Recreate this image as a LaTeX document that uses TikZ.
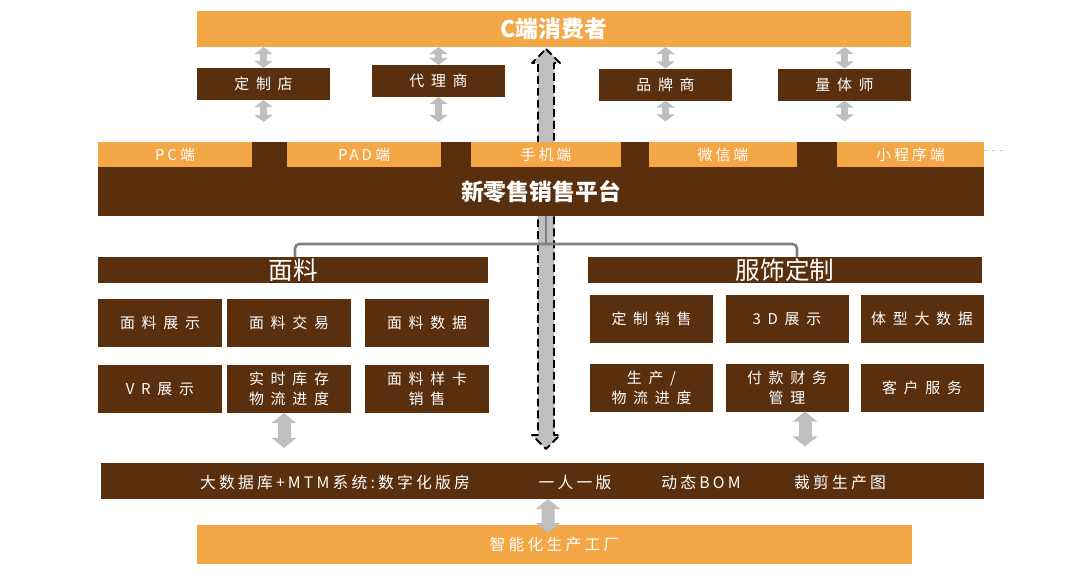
\documentclass[tikz,border=0pt]{standalone}
\usepackage{fontspec}
\setmainfont{Noto Sans CJK SC}
\newfontfamily\boxfont{Noto Sans CJK SC}[LetterSpace=45]
\newfontfamily\tabfont{Noto Sans CJK SC}[LetterSpace=20]
\usetikzlibrary{arrows.meta,positioning}
\definecolor{orgc}{HTML}{F3A746}
\definecolor{brnc}{HTML}{5A2F0E}
\definecolor{arrgray}{HTML}{BFBFBF}
\definecolor{brkgray}{HTML}{808080}
\begin{document}
\begin{tikzpicture}[line join=round,
    obar/.style={fill=orgc, text=white, inner sep=0pt, outer sep=0pt},
    bbar/.style={fill=brnc, text=white, inner sep=0pt, outer sep=0pt},
    sbox/.style={bbar, minimum width=2.66cm, minimum height=0.64cm, font=\boxfont\fontsize{8.5}{11}\selectfont},
    cell/.style={bbar, minimum width=2.48cm, minimum height=0.96cm, align=center, font=\boxfont\fontsize{8.5}{11.4}\selectfont},
    tab/.style={obar, minimum height=0.50cm, font=\tabfont\fontsize{8.5}{10}\selectfont},
    head/.style={bbar, minimum height=0.52cm, font=\fontsize{14}{16}\selectfont},
    ttl/.style={text=white, inner sep=0pt, font=\fontsize{13}{15}\selectfont\bfseries},
    btxt/.style={text=white, inner sep=0pt, font=\tabfont\fontsize{9}{11}\selectfont},
    sarr/.style={draw=arrgray, line width=4.5pt, {Triangle[width=10.2pt,length=4pt]}-{Triangle[width=10.2pt,length=4pt]}},
    larr/.style={draw=arrgray, line width=7.4pt, {Triangle[width=13.7pt,length=5.7pt]}-{Triangle[width=13.7pt,length=5.7pt]}},
    bigarr/.style={fill=arrgray, draw=black, line width=1.1pt, dash pattern=on 4.5pt off 2.3pt},
    brk/.style={draw=brkgray, line width=1.5pt, rounded corners=2.5pt}]
  \useasboundingbox (0,0) rectangle (21.66,-11.62);
  % big arrow behind the platform
  \draw[bigarr] (10.92,-0.98) -- (11.20,-1.26) -- (11.08,-1.26) -- (11.08,-8.70) -- (11.20,-8.70)
    -- (10.92,-8.98) -- (10.64,-8.70) -- (10.76,-8.70) -- (10.76,-1.26) -- (10.64,-1.26) -- cycle;
  % consumers and channels
  \node[obar, minimum width=14.28cm, minimum height=0.72cm, font=\fontsize{13}{15}\selectfont\bfseries] (cons) at (11.08,-0.58) {C端消费者};
  \node[sbox] (dzd) at (5.27,-1.68) {定制店};
  \node[sbox] (dls) at (8.77,-1.62) {代理商};
  \node[sbox] (pps) at (13.31,-1.69) {品牌商};
  \node[sbox] (lts) at (16.89,-1.69) {量体师};
  \coordinate[below=0.44cm of dzd] (dzdE);
  \coordinate[below=0.50cm of dls] (dlsE);
  \coordinate[below=0.42cm of pps] (ppsE);
  \coordinate[below=0.42cm of lts] (ltsE);
  \draw[sarr] (cons.south -| dzd.north) -- (dzd.north);
  \draw[sarr] (cons.south -| dls.north) -- (dls.north);
  \draw[sarr] (cons.south -| pps.north) -- (pps.north);
  \draw[sarr] (cons.south -| lts.north) -- (lts.north);
  \draw[sarr] (dzd.south) -- (dzdE);
  \draw[sarr] (dls.south) -- (dlsE);
  \draw[sarr] (pps.south) -- (ppsE);
  \draw[sarr] (lts.south) -- (ltsE);
  % platform
  \node[bbar, minimum width=17.72cm, minimum height=1.48cm] (plat) at (10.82,-3.58) {};
  \node[tab, minimum width=3.08cm] (pc) at (3.50,-3.09) {PC端};
  \node[tab, minimum width=3.08cm] (pad) at (7.28,-3.09) {PAD端};
  \node[tab, minimum width=3.00cm] (sj) at (10.92,-3.09) {手机端};
  \node[tab, minimum width=2.96cm] (wx) at (14.46,-3.09) {微信端};
  \node[tab, minimum width=2.94cm] (xcx) at (18.21,-3.09) {小程序端};
  \coordinate[right=0.46cm of xcx.east, yshift=0.08cm] (xcxE);
  \draw[draw=black!22, line width=0.6pt, dash pattern=on 2pt off 2.5pt] ([yshift=0.08cm]xcx.east) -- (xcxE);
  \node[ttl] (platT) at ([yshift=-0.26cm]plat.center) {新零售销售平台};
  % fabric / garment
  \node[head, minimum width=7.80cm] (mlh) at (5.86,-5.40) {面料};
  \node[head, minimum width=7.88cm] (fsh) at (15.70,-5.40) {服饰定制};
  \coordinate (brkC) at (10.92,-4.88);
  \draw[brk] ([xshift=0.04cm]mlh.north) |- (brkC) -| ([xshift=0.24cm]fsh.north);
  \draw[brk] (brkC) -- (brkC |- plat.south);
  \node[cell] (mlzs) at (3.20,-6.46) {面料展示};
  \node[cell] (mljy) at (5.78,-6.46) {面料交易};
  \node[cell] (mlsj) at (8.54,-6.46) {面料数据};
  \node[cell] (vrzs) at (3.20,-7.78) {VR展示};
  \node[cell] (sskc) at (5.78,-7.78) {实时库存\\物流进度};
  \node[cell] (mlyk) at (8.54,-7.78) {面料样卡\\销售};
  \node[cell, minimum width=2.46cm] (dzxs) at (13.03,-6.38) {定制销售};
  \node[cell, minimum width=2.46cm] (sdzs) at (15.74,-6.38) {3D展示};
  \node[cell, minimum width=2.46cm] (txsj) at (18.44,-6.38) {体型大数据};
  \node[cell, minimum width=2.46cm] (scwl) at (13.03,-7.75) {生产/\\物流进度};
  \node[cell, minimum width=2.46cm] (fkcw) at (15.74,-7.75) {付款财务\\管理};
  \node[cell, minimum width=2.46cm] (khfw) at (18.44,-7.75) {客户服务};
  % data layer and factory
  \node[bbar, minimum width=17.66cm, minimum height=0.72cm] (mdb) at (10.85,-9.62) {};
  \node[btxt] (mdb1) at (6.70,-9.64) {大数据库+MTM系统:数字化版房};
  \node[btxt] (mdb2) at (11.50,-9.64) {一人一版};
  \node[btxt] (mdb3) at (14.02,-9.64) {动态BOM};
  \node[btxt] (mdb4) at (16.80,-9.64) {裁剪生产图};
  \node[obar, minimum width=14.30cm, minimum height=0.78cm, font=\tabfont\fontsize{9}{11}\selectfont] (fac) at (11.09,-10.89) {智能化生产工厂};
  \coordinate[below=0.70cm of sskc.south, xshift=-0.10cm] (sskcE);
  \coordinate[below=0.70cm of fkcw.south, xshift=0.36cm] (fkcwE);
  \draw[larr] ([xshift=-0.10cm]sskc.south) -- (sskcE);
  \draw[larr] ([xshift=0.36cm]fkcw.south) -- (fkcwE);
  \draw[larr] ([xshift=0.11cm]mdb.south) -- ([xshift=-0.13cm, yshift=-0.16cm]fac.north);
\end{tikzpicture}
\end{document}
